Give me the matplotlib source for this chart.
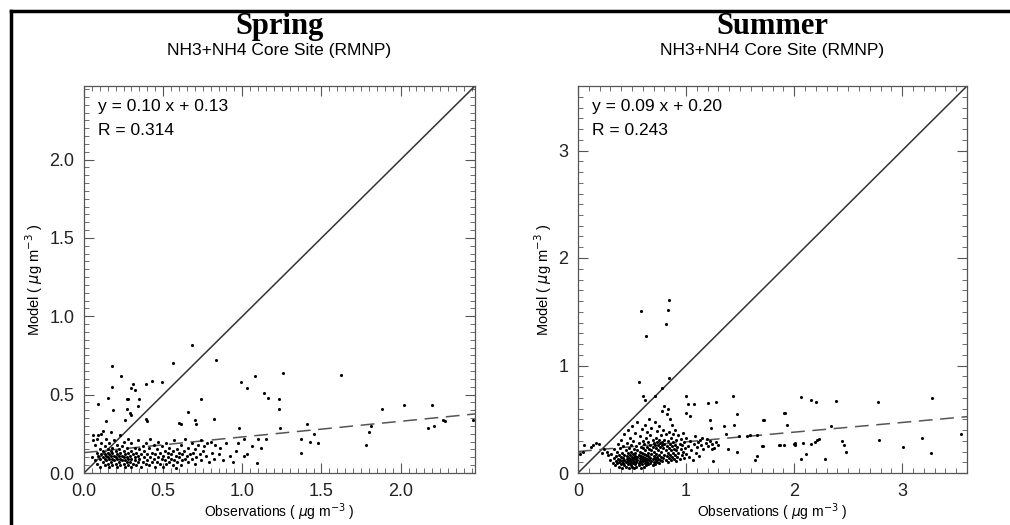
import numpy as np
import matplotlib.pyplot as plt
from matplotlib.lines import Line2D
from matplotlib.ticker import MultipleLocator, FormatStrFormatter

# seasonal model vs observation comparison, NH3+NH4 at RMNP core site

seasons = ["Spring", "Summer"]
subtitle = "NH3+NH4 Core Site (RMNP)"
axis_max = [2.47, 3.6]
fit_slope = [0.10, 0.09]
fit_icpt = [0.13, 0.20]
corr_r = [0.314, 0.243]

spring_pts = [
    # scattered points above the cluster
    (0.685, 0.82), (0.834, 0.72), (0.56, 0.70), (0.175, 0.68), (0.234, 0.62), (0.18, 0.55),
    (0.09, 0.44), (0.153, 0.48), (0.185, 0.40), (0.31, 0.57), (0.32, 0.53), (0.30, 0.54),
    (0.39, 0.57), (0.43, 0.585), (0.49, 0.58), (0.27, 0.47), (0.28, 0.47), (0.345, 0.47),
    (0.34, 0.43), (0.27, 0.41), (0.29, 0.38), (0.30, 0.37), (0.26, 0.34), (0.39, 0.345),
    (0.40, 0.33), (0.14, 0.33), (0.66, 0.39), (0.74, 0.47), (0.70, 0.34), (0.71, 0.315),
    (0.60, 0.32), (0.61, 0.31), (0.82, 0.345),
    # right-hand tail
    (0.99, 0.58), (1.03, 0.54), (1.08, 0.62), (1.14, 0.51), (1.16, 0.48), (1.23, 0.475),
    (1.23, 0.41), (1.26, 0.64), (1.626, 0.626), (1.24, 0.29), (0.98, 0.29), (1.41, 0.31),
    (1.45, 0.25), (1.37, 0.22), (1.43, 0.20), (1.48, 0.19), (1.37, 0.13), (1.09, 0.067),
    (1.12, 0.16), (1.06, 0.17), (1.01, 0.215), (1.10, 0.215), (1.15, 0.215), (0.97, 0.19),
    (1.01, 0.11), (1.03, 0.12), (1.884, 0.41), (2.02, 0.435), (2.20, 0.435), (1.81, 0.30),
    (1.80, 0.26), (1.78, 0.18), (2.17, 0.29), (2.21, 0.30), (2.28, 0.33), (2.27, 0.34),
    (2.46, 0.34),
    # dense low cluster
    (0.05, 0.10), (0.06, 0.21), (0.07, 0.08), (0.07, 0.18), (0.08, 0.13), (0.08, 0.06),
    (0.09, 0.11), (0.09, 0.24), (0.10, 0.09), (0.10, 0.15), (0.10, 0.04), (0.11, 0.12),
    (0.11, 0.19), (0.12, 0.07), (0.12, 0.10), (0.12, 0.14), (0.13, 0.05), (0.13, 0.09),
    (0.13, 0.12), (0.13, 0.17), (0.14, 0.08), (0.14, 0.11), (0.14, 0.22), (0.15, 0.06),
    (0.15, 0.10), (0.15, 0.13), (0.15, 0.15), (0.16, 0.04), (0.16, 0.09), (0.16, 0.12),
    (0.16, 0.19), (0.17, 0.07), (0.17, 0.11), (0.17, 0.14), (0.17, 0.26), (0.18, 0.05),
    (0.18, 0.09), (0.18, 0.13), (0.18, 0.16), (0.19, 0.08), (0.19, 0.11), (0.19, 0.21),
    (0.20, 0.06), (0.20, 0.10), (0.20, 0.14), (0.21, 0.04), (0.21, 0.09), (0.21, 0.12),
    (0.21, 0.18), (0.22, 0.07), (0.22, 0.11), (0.22, 0.15), (0.23, 0.05), (0.23, 0.09),
    (0.23, 0.13), (0.23, 0.24), (0.24, 0.08), (0.24, 0.11), (0.24, 0.17), (0.25, 0.06),
    (0.25, 0.10), (0.25, 0.14), (0.25, 0.20), (0.26, 0.04), (0.26, 0.08), (0.26, 0.12),
    (0.27, 0.07), (0.27, 0.10), (0.27, 0.16), (0.28, 0.05), (0.28, 0.09), (0.28, 0.13),
    (0.28, 0.22), (0.29, 0.07), (0.29, 0.11), (0.30, 0.04), (0.30, 0.09), (0.30, 0.14),
    (0.30, 0.19), (0.31, 0.06), (0.31, 0.12), (0.32, 0.08), (0.32, 0.10), (0.32, 0.16),
    (0.33, 0.05), (0.33, 0.13), (0.34, 0.07), (0.34, 0.11), (0.34, 0.21), (0.35, 0.09),
    (0.35, 0.15), (0.36, 0.04), (0.36, 0.12), (0.37, 0.07), (0.37, 0.17), (0.38, 0.10),
    (0.38, 0.14), (0.39, 0.06), (0.39, 0.19), (0.40, 0.08), (0.40, 0.12), (0.41, 0.05),
    (0.41, 0.16), (0.42, 0.10), (0.42, 0.22), (0.43, 0.07), (0.43, 0.13), (0.44, 0.09),
    (0.44, 0.18), (0.45, 0.04), (0.45, 0.12), (0.46, 0.07), (0.46, 0.15), (0.47, 0.10),
    (0.47, 0.20), (0.48, 0.06), (0.48, 0.13), (0.49, 0.09), (0.49, 0.17), (0.50, 0.04),
    (0.50, 0.11), (0.51, 0.08), (0.51, 0.14), (0.52, 0.06), (0.52, 0.19), (0.53, 0.10),
    (0.53, 0.13), (0.54, 0.07), (0.54, 0.16), (0.55, 0.09), (0.55, 0.12), (0.56, 0.05),
    (0.56, 0.14), (0.57, 0.08), (0.57, 0.21), (0.58, 0.11), (0.58, 0.03), (0.59, 0.07),
    (0.59, 0.15), (0.60, 0.10), (0.60, 0.13), (0.61, 0.05), (0.61, 0.18), (0.62, 0.08),
    (0.62, 0.12), (0.63, 0.14), (0.64, 0.09), (0.64, 0.22), (0.65, 0.11), (0.66, 0.07),
    (0.66, 0.16), (0.67, 0.12), (0.68, 0.09), (0.68, 0.19), (0.69, 0.13), (0.70, 0.06),
    (0.70, 0.15), (0.71, 0.10), (0.72, 0.18), (0.73, 0.12), (0.74, 0.08), (0.74, 0.21),
    (0.75, 0.14), (0.76, 0.17), (0.77, 0.11), (0.78, 0.19), (0.79, 0.07), (0.80, 0.20),
    (0.81, 0.13), (0.82, 0.09), (0.83, 0.18), (0.85, 0.12), (0.86, 0.16), (0.88, 0.08),
    (0.90, 0.19), (0.92, 0.11), (0.94, 0.07), (0.96, 0.14), (0.06, 0.24), (0.08, 0.22),
    (0.11, 0.25), (0.12, 0.27),
]

summer_pts = [
    # high outliers
    (0.843, 1.61), (0.836, 1.52), (0.58, 1.51), (0.815, 1.39), (0.626, 1.27), (0.568, 0.85),
    (0.846, 0.88), (0.775, 0.79), (0.71, 0.72), (0.60, 0.72), (0.62, 0.68),
    # middle spread
    (1.00, 0.72), (1.02, 0.64), (1.07, 0.64), (1.20, 0.65), (1.28, 0.66), (1.43, 0.72),
    (1.47, 0.55), (1.35, 0.44), (1.44, 0.45), (1.22, 0.49), (1.23, 0.42), (1.00, 0.56),
    (1.04, 0.53), (1.72, 0.49), (1.92, 0.56), (1.93, 0.45), (1.37, 0.36), (1.49, 0.34),
    (1.56, 0.34), (1.59, 0.35), (1.66, 0.35), (1.70, 0.25), (1.66, 0.16), (1.64, 0.12),
    (1.87, 0.26), (1.91, 0.26), (2.01, 0.26), (1.47, 0.20), (1.39, 0.22), (1.25, 0.11),
    (1.24, 0.22), (1.15, 0.33), (1.19, 0.32), (1.13, 0.31),
    # near origin
    (0.05, 0.20), (0.06, 0.26), (0.12, 0.24), (0.14, 0.26), (0.17, 0.28), (0.19, 0.27),
    (0.27, 0.20), (0.24, 0.22), (0.28, 0.17), (0.02, 0.18), (0.22, 0.19),
    # right-hand tail
    (1.71, 0.49), (1.91, 0.56), (2.06, 0.71), (2.16, 0.68), (2.20, 0.66), (2.39, 0.67),
    (2.78, 0.665), (3.28, 0.70), (2.34, 0.44), (1.71, 0.25), (1.86, 0.26), (2.00, 0.27),
    (2.01, 0.275), (2.08, 0.28), (2.16, 0.27), (2.19, 0.29), (2.21, 0.31), (2.23, 0.32),
    (2.44, 0.30), (2.46, 0.26), (2.48, 0.20), (2.11, 0.18), (2.06, 0.13), (2.29, 0.13),
    (2.79, 0.31), (3.01, 0.24), (3.18, 0.33), (3.27, 0.19), (3.54, 0.36),
    # dense cluster
    (0.30, 0.12), (0.31, 0.18), (0.32, 0.09), (0.33, 0.14), (0.33, 0.22), (0.34, 0.07),
    (0.35, 0.11), (0.35, 0.16), (0.36, 0.20), (0.36, 0.09), (0.37, 0.13), (0.37, 0.27),
    (0.38, 0.06), (0.38, 0.10), (0.38, 0.17), (0.39, 0.12), (0.39, 0.23), (0.40, 0.08),
    (0.40, 0.15), (0.40, 0.31), (0.41, 0.05), (0.41, 0.11), (0.41, 0.19), (0.42, 0.09),
    (0.42, 0.14), (0.42, 0.25), (0.43, 0.07), (0.43, 0.12), (0.43, 0.17), (0.43, 0.36),
    (0.44, 0.10), (0.44, 0.21), (0.44, 0.06), (0.45, 0.13), (0.45, 0.16), (0.45, 0.28),
    (0.46, 0.08), (0.46, 0.11), (0.46, 0.19), (0.46, 0.40), (0.47, 0.05), (0.47, 0.14),
    (0.47, 0.23), (0.48, 0.09), (0.48, 0.12), (0.48, 0.17), (0.48, 0.33), (0.49, 0.07),
    (0.49, 0.10), (0.49, 0.20), (0.49, 0.26), (0.50, 0.13), (0.50, 0.15), (0.50, 0.06),
    (0.50, 0.44), (0.51, 0.09), (0.51, 0.12), (0.51, 0.18), (0.51, 0.30), (0.52, 0.05),
    (0.52, 0.11), (0.52, 0.14), (0.52, 0.22), (0.53, 0.08), (0.53, 0.16), (0.53, 0.19),
    (0.53, 0.37), (0.54, 0.10), (0.54, 0.13), (0.54, 0.25), (0.54, 0.06), (0.55, 0.12),
    (0.55, 0.15), (0.55, 0.21), (0.55, 0.47), (0.56, 0.07), (0.56, 0.09), (0.56, 0.17),
    (0.56, 0.28), (0.57, 0.11), (0.57, 0.14), (0.57, 0.20), (0.57, 0.34), (0.58, 0.05),
    (0.58, 0.10), (0.58, 0.16), (0.58, 0.24), (0.59, 0.08), (0.59, 0.13), (0.59, 0.19),
    (0.59, 0.41), (0.60, 0.11), (0.60, 0.15), (0.60, 0.23), (0.60, 0.30), (0.61, 0.06),
    (0.61, 0.12), (0.61, 0.18), (0.61, 0.27), (0.62, 0.09), (0.62, 0.14), (0.62, 0.21),
    (0.62, 0.45), (0.63, 0.07), (0.63, 0.11), (0.63, 0.17), (0.63, 0.33), (0.64, 0.10),
    (0.64, 0.13), (0.64, 0.24), (0.64, 0.38), (0.65, 0.08), (0.65, 0.16), (0.65, 0.19),
    (0.65, 0.29), (0.66, 0.12), (0.66, 0.15), (0.66, 0.22), (0.66, 0.50), (0.67, 0.09),
    (0.67, 0.14), (0.67, 0.26), (0.67, 0.35), (0.68, 0.11), (0.68, 0.18), (0.68, 0.21),
    (0.68, 0.42), (0.69, 0.07), (0.69, 0.13), (0.69, 0.24), (0.69, 0.31), (0.70, 0.10),
    (0.70, 0.16), (0.70, 0.20), (0.70, 0.28), (0.71, 0.08), (0.71, 0.14), (0.71, 0.26),
    (0.71, 0.47), (0.72, 0.12), (0.72, 0.18), (0.72, 0.23), (0.72, 0.33), (0.73, 0.10),
    (0.73, 0.15), (0.73, 0.29), (0.73, 0.39), (0.74, 0.13), (0.74, 0.21), (0.74, 0.26),
    (0.75, 0.09), (0.75, 0.17), (0.75, 0.31), (0.75, 0.44), (0.76, 0.12), (0.76, 0.24),
    (0.76, 0.28), (0.77, 0.15), (0.77, 0.20), (0.77, 0.35), (0.78, 0.11), (0.78, 0.26),
    (0.78, 0.29), (0.78, 0.58), (0.79, 0.14), (0.79, 0.23), (0.79, 0.40), (0.80, 0.17),
    (0.80, 0.27), (0.80, 0.31), (0.80, 0.62), (0.81, 0.12), (0.81, 0.21), (0.81, 0.36),
    (0.82, 0.16), (0.82, 0.25), (0.82, 0.55), (0.83, 0.10), (0.83, 0.19), (0.83, 0.30),
    (0.83, 0.60), (0.84, 0.14), (0.84, 0.23), (0.84, 0.38), (0.85, 0.17), (0.85, 0.27),
    (0.85, 0.50), (0.86, 0.12), (0.86, 0.21), (0.86, 0.33), (0.87, 0.15), (0.87, 0.25),
    (0.87, 0.45), (0.88, 0.19), (0.88, 0.29), (0.88, 0.36), (0.89, 0.13), (0.89, 0.22),
    (0.90, 0.17), (0.90, 0.26), (0.90, 0.40), (0.91, 0.11), (0.91, 0.21), (0.91, 0.31),
    (0.92, 0.15), (0.92, 0.24), (0.93, 0.19), (0.93, 0.35), (0.94, 0.13), (0.94, 0.27),
    (0.95, 0.22), (0.95, 0.32), (0.96, 0.17), (0.96, 0.26), (0.97, 0.20), (0.97, 0.37),
    (0.98, 0.14), (0.98, 0.29), (0.99, 0.23), (1.00, 0.18), (1.00, 0.33), (1.02, 0.25),
    (1.03, 0.15), (1.04, 0.30), (1.05, 0.21), (1.06, 0.12), (1.07, 0.27), (1.08, 0.34),
    (1.09, 0.19), (1.10, 0.24), (1.11, 0.29), (1.12, 0.16), (1.14, 0.26), (1.16, 0.22),
    (1.18, 0.28), (1.20, 0.25), (1.22, 0.30), (1.24, 0.27), (1.26, 0.23), (1.28, 0.29),
    (1.30, 0.26),
]

all_pts = [spring_pts, summer_pts]
major_step = [0.5, 1.0]
minor_step = [0.05, 0.1]
tick_fmt = ["%.1f", "%d"]

plt.rcParams['font.family'] = ['Liberation Sans', 'DejaVu Sans']

fig = plt.figure(figsize=(10.1, 5.25), dpi=100)
W, H = 1010.0, 525.0
axes_left = [84, 578]
axes_w = [391, 389]

for i in range(2):
    ax = fig.add_axes([axes_left[i] / W, (H - 473) / H, axes_w[i] / W, 387 / H])
    lim = axis_max[i]
    obs = [p[0] for p in all_pts[i]]
    mod = [p[1] for p in all_pts[i]]

    ax.scatter(obs, mod, s=5, c='k', linewidths=0, zorder=3)
    ax.plot([0, lim], [0, lim], color='#333333', lw=1.1)
    xs = np.array([0, lim])
    ax.plot(xs, fit_slope[i] * xs + fit_icpt[i], color='#555555', lw=1.1,
            dashes=(9, 5))

    ax.set_xlim(0, lim)
    ax.set_ylim(0, lim)
    ax.xaxis.set_major_locator(MultipleLocator(major_step[i]))
    ax.yaxis.set_major_locator(MultipleLocator(major_step[i]))
    ax.xaxis.set_minor_locator(MultipleLocator(minor_step[i]))
    ax.yaxis.set_minor_locator(MultipleLocator(minor_step[i]))
    ax.xaxis.set_major_formatter(FormatStrFormatter(tick_fmt[i]))
    ax.yaxis.set_major_formatter(FormatStrFormatter(tick_fmt[i]))
    ax.tick_params(which='both', direction='in', top=True, right=True,
                   color='#555555', labelsize=13, labelcolor='#222222')
    ax.tick_params(which='major', length=7, width=0.8, pad=7)
    ax.tick_params(which='minor', length=3.5, width=0.6)
    for s in ax.spines.values():
        s.set_color('#555555')
        s.set_linewidth(0.9)

    ax.set_xlabel(r"Observations ( $\mu$g m$^{-3}$ )", fontsize=10, labelpad=1)
    ax.set_ylabel(r"Model ( $\mu$g m$^{-3}$ )", fontsize=10.5, labelpad=3)

    ax.text(0.036, 0.948, "y = %.2f x + %.2f" % (fit_slope[i], fit_icpt[i]),
            transform=ax.transAxes, fontsize=12.5, va='center')
    ax.text(0.036, 0.886, "R = %.3f" % corr_r[i],
            transform=ax.transAxes, fontsize=12.5, va='center')

    cx = (axes_left[i] + axes_w[i] / 2) / W
    fig.text(cx, 1 - 34 / H, seasons[i], ha='center', va='baseline', fontsize=22,
             fontweight='bold', family='Liberation Serif')
    fig.text(cx, 1 - 55 / H, subtitle, ha='center', va='baseline', fontsize=12.5)

# frame round the whole panel (bottom and right edges cut off)
fig.add_artist(Line2D([11 / W, 11 / W], [0, 1 - 11 / H], transform=fig.transFigure,
                      color='k', lw=2.5))
fig.add_artist(Line2D([11 / W, 1], [1 - 11 / H, 1 - 11 / H], transform=fig.transFigure,
                      color='k', lw=2.5))

fig.savefig("out.png", dpi=100)
